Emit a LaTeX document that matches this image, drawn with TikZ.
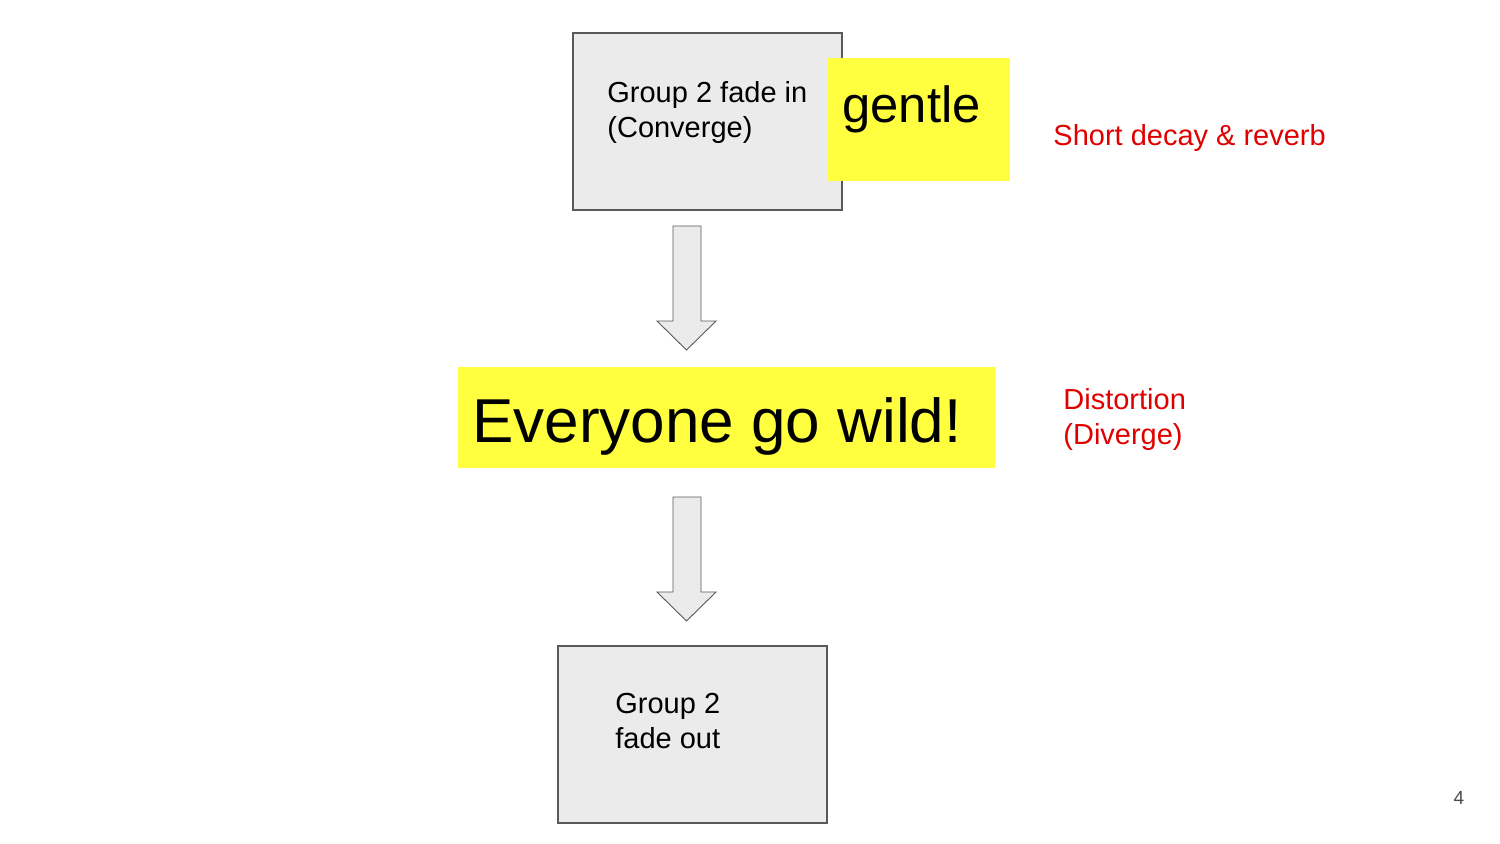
\documentclass[tikz,border=0pt]{standalone}
\usepackage{fontspec}
\setmainfont{Liberation Sans}
\definecolor{boxfill}{HTML}{EBEBEB}
\definecolor{boxline}{HTML}{595959}
\definecolor{hiyellow}{HTML}{FFFF3F}
\definecolor{notered}{HTML}{E00000}
\begin{document}
\begin{tikzpicture}[x=0.5pt,y=-0.5pt,
  graybox/.style={draw=boxline,fill=boxfill,line width=0.7pt,inner sep=0pt},
  yellowbox/.style={fill=hiyellow,inner sep=0pt},
  blockarrow/.style={draw=boxline,fill=boxfill,line width=0.45pt,line join=miter},
  bodytext/.style={inner sep=0pt,anchor=base west,align=left,font=\fontsize{14.5pt}{17.5pt}\selectfont},
  redtext/.style={bodytext,text=notered}]
\useasboundingbox (0,0) rectangle (1500,843);
% top box
\node[graybox,minimum width=134.5pt,minimum height=88.5pt] (top) at (707.5,121.5) {};
\node[yellowbox,minimum width=91pt,minimum height=61.5pt] (gentlebox) at (919,119.5) {};
\node[inner sep=0pt,anchor=base west,font=\fontsize{25.4pt}{30pt}\selectfont] (gentle) at (842,122) {gentle};
\node[bodytext] (toptext) at (607,137) {Group 2 fade in\\(Converge)};
% red note
\node[redtext] (note1) at (1053,145) {Short decay \& reverb};
% arrow 1
\draw[blockarrow] (673,226) -- (701,226) -- (701,321) -- (716,321) -- (686.5,350) -- (657,321) -- (673,321) -- cycle;
% wild
\node[yellowbox,minimum width=268.5pt,minimum height=50.5pt] (wildbox) at (726.5,417.5) {};
\node[inner sep=0pt,anchor=base west,font=\fontsize{31pt}{36pt}\selectfont] (wild) at (472,442) {Everyone go wild!};
\node[redtext] (note2) at (1063,444) {Distortion\\(Diverge)};
% arrow 2
\draw[blockarrow] (673,497) -- (701,497) -- (701,592) -- (716,592) -- (686.5,621) -- (657,592) -- (673,592) -- cycle;
% bottom box
\node[graybox,minimum width=134.5pt,minimum height=88.5pt] (bottom) at (692.5,734.5) {};
\node[bodytext] (bottext) at (615,748) {Group 2\\fade out};
% page number
\node[inner sep=0pt,anchor=base,font=\fontsize{9.5pt}{11pt}\selectfont,text=black!70] (page) at (1459,804) {4};
\end{tikzpicture}
\end{document}
